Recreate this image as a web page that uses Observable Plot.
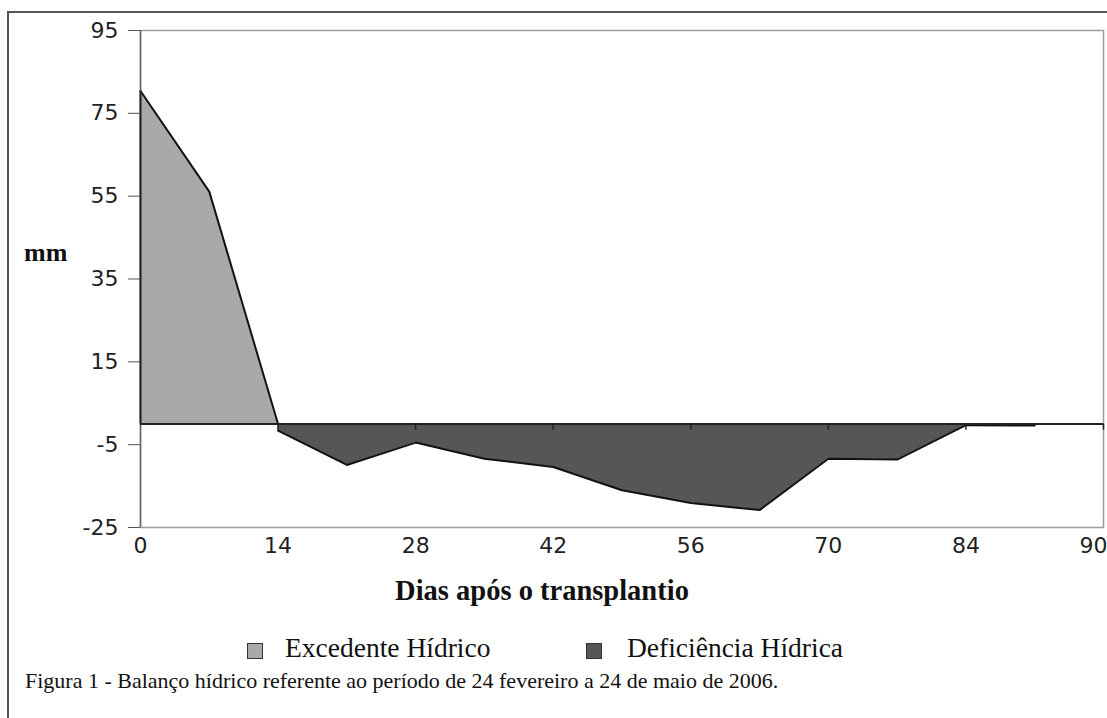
<!DOCTYPE html>
<html>
<head>
<meta charset="utf-8">
<script src="https://cdn.jsdelivr.net/npm/d3@7"></script>
<script src="https://cdn.jsdelivr.net/npm/@observablehq/plot@0.6"></script>
<style>
  html, body { margin: 0; padding: 0; background: #fff; }
  #wrap { position: relative; width: 1107px; height: 718px; overflow: hidden; background: #fff; }
  #outer { position: absolute; left: 7px; top: 11px; width: 1200px; height: 800px; border-left: 2px solid #555; border-top: 2px solid #555; }
  #chart { position: absolute; left: 0; top: 0; }
  .serif { font-family: "Liberation Serif", "Times New Roman", serif; color: #111; line-height: 1; white-space: nowrap; position: absolute; }
  .sw { position: absolute; width: 14px; height: 14px; border: 1px solid #333; }
</style>
</head>
<body>
<div id="wrap">
  <div id="outer"></div>
  <div id="chart"></div>
  <div class="serif" id="ylab" style="left:24px; top:240px; font-size:26px; font-weight:bold;">mm</div>
  <div class="serif" id="xlab" style="left:292px; width:500px; text-align:center; top:577px; font-size:28.5px; font-weight:bold;">Dias após o transplantio</div>
  <div class="sw" style="left:247px; top:643px; background:#a9a9a9;"></div>
  <div class="serif" style="left:285px; top:634px; font-size:27.5px;">Excedente Hídrico</div>
  <div class="sw" style="left:586px; top:643px; background:#565656;"></div>
  <div class="serif" style="left:627px; top:634px; font-size:27.5px;">Deficiência Hídrica</div>
  <div class="serif" style="left:25px; top:670px; font-size:22px;">Figura 1 - Balanço hídrico referente ao período de 24 fevereiro a 24 de maio de 2006.</div>
</div>
<script>
// ---- data ----
const xTicks = [0, 14, 28, 42, 56, 70, 84, 90];
const yTicks = [95, 75, 55, 35, 15, -5, -25];

const excDays = [0, 7, 14];
const excValues = [80.4, 56.1, 0];

const defDays = [14, 21, 28, 35, 42, 49, 56, 63, 70, 77, 84, 87];
const defValues = [-1.6, -9.9, -4.5, -8.4, -10.4, -16.0, -19.1, -20.8, -8.4, -8.6, -0.3, -0.4];

const excedente = excDays.map((d, i) => ({day: d, mm: excValues[i]}));
const deficiencia = defDays.map((d, i) => ({day: d, mm: defValues[i]}));

// ---- layout ----
const W = 1107, H = 560;
const mL = 140, mR = 4, mT = 30, mB = 33;
// categorical-style axis: labels equally spaced (piecewise linear)
const xRange = xTicks.map((_, i) => mL + i * (W - mL - mR) / (xTicks.length - 1));
const fmt = d => String(d).replace("\u2212", "-");

const chart = Plot.plot({
  width: W,
  height: H,
  marginLeft: mL,
  marginRight: mR,
  marginTop: mT,
  marginBottom: mB,
  style: {fontFamily: "DejaVu Sans, sans-serif", fontSize: "22px", color: "#222", background: "transparent"},
  x: {type: "linear", domain: xTicks, range: xRange},
  y: {domain: [-25, 95]},
  marks: [
    Plot.frame({stroke: "#9c9c9c", strokeWidth: 1.5}),
    Plot.areaY(excedente, {x: "day", y: "mm", fill: "#a9a9a9"}),
    Plot.areaY(deficiencia, {x: "day", y: "mm", fill: "#565656"}),
    Plot.line(excedente, {x: "day", y: "mm", stroke: "#111", strokeWidth: 2}),
    Plot.line(deficiencia, {x: "day", y: "mm", stroke: "#111", strokeWidth: 2}),
    Plot.ruleX([0], {stroke: "#666", strokeWidth: 1.5}),
    Plot.ruleX([0], {y1: 0, y2: excValues[0], stroke: "#222", strokeWidth: 2}),
    Plot.ruleY([0], {stroke: "#222", strokeWidth: 2}),
    Plot.ruleX(xTicks.slice(1), {y1: 0, y2: -1.5, stroke: "#222", strokeWidth: 1.5}),
    Plot.axisY({ticks: yTicks, tickSize: 12, tickPadding: 10, stroke: "#555", label: null, tickFormat: fmt}),
    Plot.axisX({ticks: xTicks.slice(0, -1), tickSize: 0, tickPadding: 10, label: null, tickFormat: fmt}),
    Plot.axisX({ticks: xTicks.slice(-1), tickSize: 0, tickPadding: 10, label: null, tickFormat: fmt, textAnchor: "end", dx: 4})
  ]
});
document.getElementById("chart").appendChild(chart);
</script>
</body>
</html>
